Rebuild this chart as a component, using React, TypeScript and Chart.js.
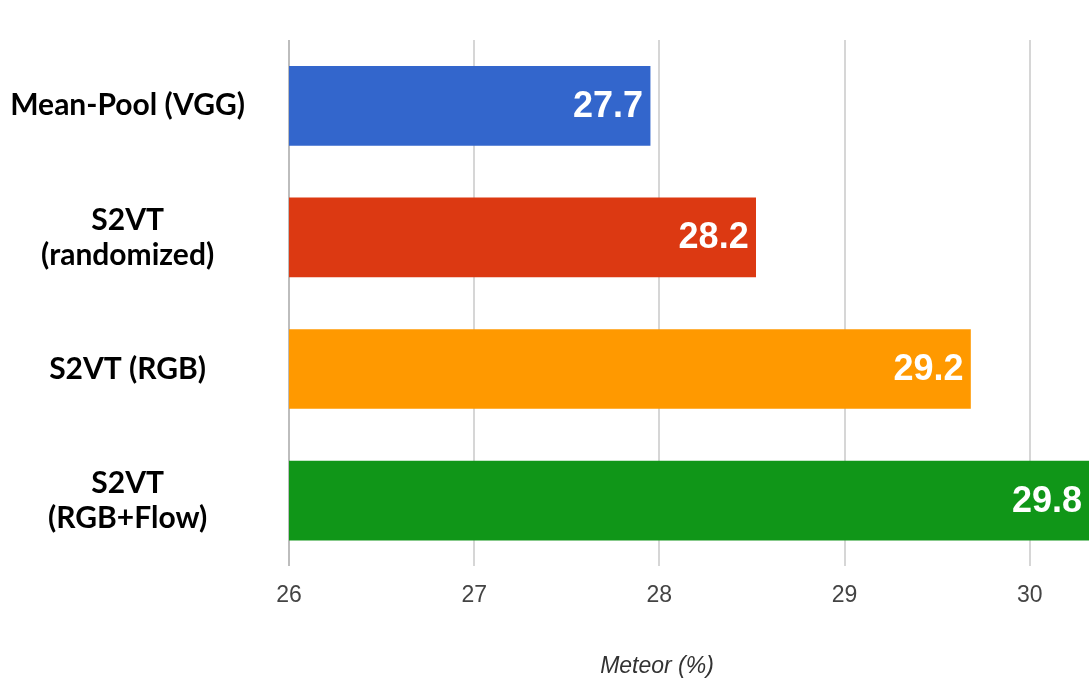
import { useEffect, useRef } from "react";
import { Chart, registerables } from "chart.js";

Chart.register(...registerables);

const categories: (string | string[])[] = [
  "Mean-Pool (VGG)",
  ["S2VT", "(randomized)"],
  "S2VT (RGB)",
  ["S2VT", "(RGB+Flow)"],
];
const barValues = [27.95, 28.52, 29.68, 30.5];
const valueLabels = ["27.7", "28.2", "29.2", "29.8"];
const barColors = ["#3366cc", "#dc3912", "#ff9900", "#109618"];
const xMin = 26;
const xMax = 30.32;
const axisTitle = "Meteor (%)";

const valueLabelPlugin = {
  id: "valueLabels",
  afterDatasetsDraw(chart: any) {
    const { ctx, chartArea } = chart;
    const meta = chart.getDatasetMeta(0);
    ctx.save();
    ctx.font = 'bold 36px "Liberation Sans", Arial, sans-serif';
    ctx.fillStyle = "#ffffff";
    ctx.textAlign = "right";
    ctx.textBaseline = "middle";
    meta.data.forEach((bar: any, i: number) => {
      const x = Math.min(bar.x, chartArea.right) - 7;
      ctx.fillText(valueLabels[i], x, bar.y + 1);
    });
    ctx.restore();
  },
};

const axisTitlePlugin = {
  id: "axisTitle",
  afterDraw(chart: any) {
    const { ctx } = chart;
    ctx.save();
    ctx.font = 'italic 23px "Liberation Sans", Arial, sans-serif';
    ctx.fillStyle = "#333333";
    ctx.textAlign = "center";
    ctx.textBaseline = "middle";
    ctx.fillText(axisTitle, 657, 667);
    ctx.restore();
  },
};

export default function App() {
  const canvasRef = useRef<HTMLCanvasElement | null>(null);

  useEffect(() => {
    if (!canvasRef.current) return;
    const chart = new Chart(canvasRef.current, {
      type: "bar",
      data: {
        labels: categories,
        datasets: [
          {
            data: barValues,
            backgroundColor: barColors,
            borderWidth: 0,
            barThickness: 79,
          },
        ],
      },
      options: {
        indexAxis: "y",
        responsive: false,
        animation: false,
        layout: { padding: { top: 40, bottom: 57, left: 0, right: 0 } },
        plugins: {
          legend: { display: false },
          tooltip: { enabled: false },
          title: { display: false },
        },
        scales: {
          x: {
            type: "linear",
            min: xMin,
            max: xMax,
            border: { display: false },
            grid: {
              drawTicks: false,
              lineWidth: 2,
              color: (c: any) => (c.tick && c.tick.value === xMin ? "#bdbdbd" : "#d6d6d6"),
            },
            ticks: {
              stepSize: 1,
              includeBounds: false,
              padding: 15,
              color: "#444444",
              font: { family: '"Liberation Sans", Arial, sans-serif', size: 23 },
              callback: (v: any) => (Number.isInteger(v) ? String(v) : ""),
            },
          },
          y: {
            border: { display: false },
            grid: { display: false, drawTicks: false },
            afterFit: (scale: any) => {
              scale.width = 289;
              scale.paddingTop = 0;
              scale.paddingBottom = 0;
            },
            ticks: {
              crossAlign: "center",
              padding: 44,
              color: "#000000",
              font: { family: 'Lato, "Open Sans", sans-serif', size: 30, weight: "bold", lineHeight: 1.17 },
            },
          },
        },
      },
      plugins: [valueLabelPlugin, axisTitlePlugin],
    });
    return () => chart.destroy();
  }, []);

  return (
    <div style={{ position: "absolute", left: 0, top: 0, width: 1089, height: 681, background: "#fff" }}>
      <canvas ref={canvasRef} width={1089} height={681} style={{ display: "block" }} />
    </div>
  );
}
